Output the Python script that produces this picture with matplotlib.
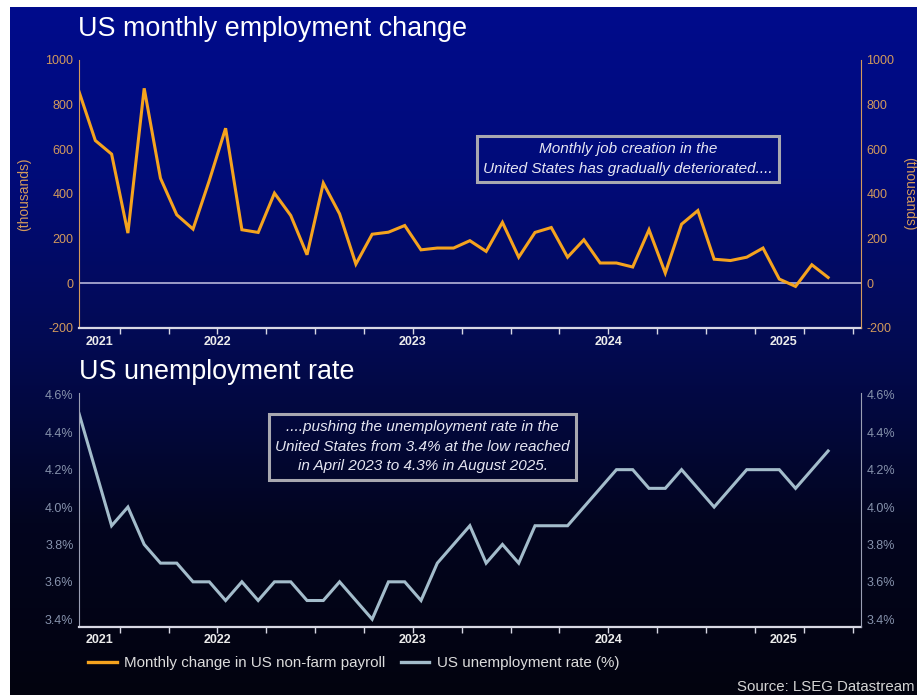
import numpy as np
import matplotlib.pyplot as plt
from matplotlib.colors import LinearSegmentedColormap
import matplotlib.transforms as mtransforms

plt.rcParams['font.family'] = ['Liberation Sans', 'DejaVu Sans']

# Monthly data, Oct 2021 .. Aug 2025
START_YEAR, START_MONTH = 2021, 10
payrolls = [858, 639, 578, 224, 873, 470, 306, 242, 460, 694,
            239, 227, 403, 303, 127, 448, 310, 85, 219, 228,
            258, 149, 157, 157, 190, 142, 272, 116, 227, 249,
            116, 194, 90, 90, 72, 239, 45, 264, 325, 107,
            101, 116, 157, 18, -15, 82, 25]
unemployment = [4.5, 4.2, 3.9, 4.0, 3.8, 3.7, 3.7, 3.6, 3.6, 3.5,
                3.6, 3.5, 3.6, 3.6, 3.5, 3.5, 3.6, 3.5, 3.4, 3.6,
                3.6, 3.5, 3.7, 3.8, 3.9, 3.7, 3.8, 3.7, 3.9, 3.9,
                3.9, 4.0, 4.1, 4.2, 4.2, 4.1, 4.1, 4.2, 4.1, 4.0,
                4.1, 4.2, 4.2, 4.2, 4.1, 4.2, 4.3]
years = [2021, 2022, 2023, 2024, 2025]

ORANGE = '#f5a31e'
STEEL = '#a3bccb'
TAN = '#d39a5c'
GREY_BLUE = '#8793ad'
AXIS_WHITE = '#d8d8e4'

# x in months since 1 Oct 2021, points at mid-month
x = np.arange(len(payrolls)) + 0.5
x_lo, x_hi = x[0], x[-1] + 2.0
quarter_ticks = np.arange(3, 49, 3)


def month_pos(year):
    return (year - START_YEAR) * 12 + (1 - START_MONTH)


fig = plt.figure(figsize=(9.17, 6.95), dpi=100)
fig.patch.set_facecolor('white')

# gradient backdrop
bg = fig.add_axes([10 / 917, 0, 1 - 10 / 917, 1 - 7 / 695], zorder=-10)
cmap = LinearSegmentedColormap.from_list(
    'bg', [(0.0, '#000c8c'), (0.25, '#010b78'), (0.5, '#030a50'),
           (0.75, '#02051f'), (1.0, '#03030f')])
bg.imshow(np.linspace(0, 1, 256).reshape(-1, 1), cmap=cmap, aspect='auto',
          extent=(0, 1, 0, 1))
bg.axis('off')


def style_axes(ax, spine_col, label_col):
    ax.set_facecolor('none')
    ax.set_xlim(x_lo, x_hi)
    ax.spines['top'].set_visible(False)
    ax.spines['left'].set_color(spine_col)
    ax.spines['right'].set_visible(False)
    ax.spines['bottom'].set_color(AXIS_WHITE)
    ax.spines['bottom'].set_linewidth(1.6)
    ax.set_xticks(quarter_ticks)
    ax.set_xticklabels([])
    ax.tick_params(axis='x', direction='out', length=4, width=1.0, color=AXIS_WHITE)
    ax.tick_params(axis='y', length=0, labelsize=9, labelcolor=label_col, pad=4)
    trans = mtransforms.blended_transform_factory(ax.transData, ax.transAxes)
    for yr in years:
        a = max(month_pos(yr), x_lo)
        b = min(month_pos(yr + 1), x_hi)
        ax.text((a + b) / 2, -0.055, str(yr), transform=trans, ha='center',
                va='center', fontsize=9, fontweight='bold', color='#ececec')
    twin = ax.twinx()
    twin.set_ylim(ax.get_ylim())
    twin.set_yticks(ax.get_yticks())
    twin.set_yticklabels([t.get_text() for t in ax.get_yticklabels()])
    for s in ('top', 'left', 'bottom'):
        twin.spines[s].set_visible(False)
    twin.spines['right'].set_color(spine_col)
    twin.tick_params(axis='y', length=0, labelsize=9, labelcolor=label_col, pad=4)
    return twin


box_style = dict(boxstyle='square,pad=0.4', fc='none', ec='#a8a8b0', lw=2.2)

# top: payrolls
ax1 = fig.add_axes([0.0862, 0.5285, 0.8524, 0.3852])
ax1.plot(x, payrolls, color=ORANGE, lw=2.2, solid_joinstyle='miter')
ax1.axhline(0, color='#9c9cc8', lw=1.4, zorder=1)
ax1.set_ylim(-200, 1000)
ax1.set_yticks(range(-200, 1001, 200))
ax1.set_yticklabels([str(v) for v in range(-200, 1001, 200)])
tw1 = style_axes(ax1, TAN, TAN)
ax1.set_ylabel('(thousands)', color=TAN, fontsize=10, labelpad=10)
tw1.set_ylabel('(thousands)', color=TAN, fontsize=10, rotation=270, labelpad=16)
ax1.text(0.702, 0.630,
         'Monthly job creation in the\nUnited States has gradually deteriorated....',
         transform=ax1.transAxes, ha='center', va='center', fontsize=11,
         style='italic', color='#e6e6f2', linespacing=1.5, bbox=box_style)

# bottom: unemployment rate
ax2 = fig.add_axes([0.0862, 0.0983, 0.8524, 0.3362])
ax2.plot(x, unemployment, color=STEEL, lw=2.2, solid_joinstyle='miter')
ax2.set_ylim(3.36, 4.61)
rate_ticks = [3.4, 3.6, 3.8, 4.0, 4.2, 4.4, 4.6]
ax2.set_yticks(rate_ticks)
ax2.set_yticklabels([f'{v:.1f}%' for v in rate_ticks])
style_axes(ax2, '#9a9fb4', GREY_BLUE)
ax2.text(0.4394, 0.769,
         '....pushing the unemployment rate in the\nUnited States from 3.4% at the low reached\n'
         'in April 2023 to 4.3% in August 2025.',
         transform=ax2.transAxes, ha='center', va='center', fontsize=11,
         style='italic', color='#e6e6f2', linespacing=1.5, bbox=box_style)

fig.text(78 / 917, 1 - 29 / 695, 'US monthly employment change', fontsize=19.4,
         color='white', ha='left', va='center')
fig.text(79 / 917, 1 - 372 / 695, 'US unemployment rate', fontsize=19.4,
         color='white', ha='left', va='center')

h1, = ax1.plot([], [], color=ORANGE, lw=2.4)
h2, = ax1.plot([], [], color=STEEL, lw=2.4)
leg = fig.legend([h1, h2], ['Monthly change in US non-farm payroll', 'US unemployment rate (%)'],
                 loc='center left', bbox_to_anchor=(0.081, 0.046), ncol=2, frameon=False,
                 fontsize=10.9, handlelength=1.9, handletextpad=0.5, columnspacing=1.0)
for t in leg.get_texts():
    t.set_color('#dcdcdc')

fig.text(0.997, 1 - 687 / 695, 'Source: LSEG Datastream', fontsize=10.8,
         color='#d4d4d4', ha='right', va='center')

fig.savefig('out.png', dpi=100)
